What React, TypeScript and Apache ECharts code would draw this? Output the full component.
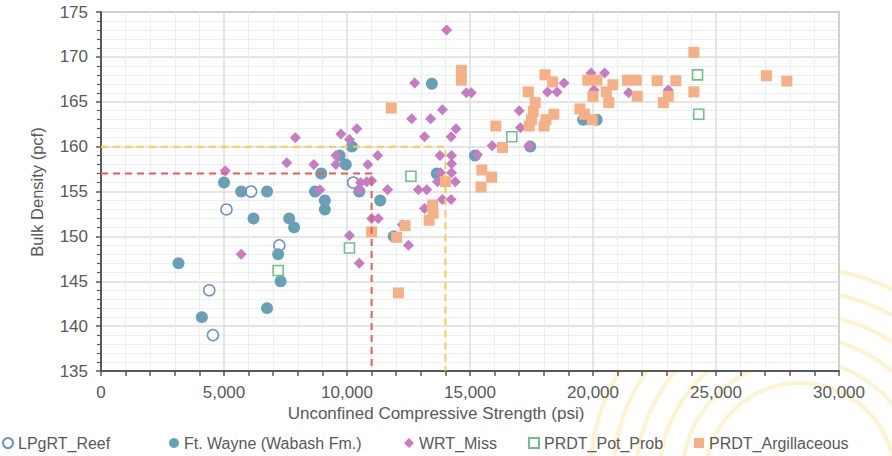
import React, { useEffect, useRef } from 'react';
import * as echarts from 'echarts';

// ---- data (UCS psi, bulk density pcf) ----
const lpgrtReef: number[][] = [
  [4400, 144], [4550, 139], [5100, 153], [6100, 155], [7250, 149], [10250, 156],
];

const ftWayne: number[][] = [
  [3150, 147], [4100, 141], [5000, 156], [5700, 155], [6200, 152], [6750, 155],
  [6750, 142], [7200, 148], [7300, 145], [7650, 152], [7850, 151], [8700, 155],
  [8950, 157], [9100, 154], [9100, 153], [9700, 159], [9950, 158], [10200, 160],
  [10500, 155], [11350, 154], [11900, 150], [13450, 167], [13650, 157], [15200, 159],
  [17450, 160], [19600, 163], [20150, 163],
];

const wrtMiss: number[][] = [
  [5050, 157.3], [5700, 148], [7550, 158.2], [7900, 161], [8650, 158], [8900, 155.2],
  [9550, 159], [9550, 158], [9750, 161.4], [10100, 160.8], [10400, 162], [10100, 150.1],
  [10500, 147], [10500, 155.2], [10550, 156], [10800, 156.1], [11000, 156.2], [10850, 158],
  [11250, 159], [11000, 152], [11270, 152], [11650, 155.2], [12250, 151.3], [12500, 149],
  [12900, 155.2], [13240, 155.2], [13150, 153.1], [13150, 161.1], [12630, 163.1], [13400, 163.1],
  [12750, 167.1], [13880, 164.1], [14050, 173], [14430, 162], [14230, 161.1], [14850, 166],
  [15050, 166], [13780, 159], [14250, 159], [14250, 158.1], [13800, 157.1], [14250, 157.1],
  [13680, 156.1], [14400, 156.1], [13880, 154.1], [14230, 154.1], [15300, 159.1], [15900, 160.1],
  [17000, 164], [17050, 162.1], [17400, 160.1], [18150, 166.1], [18540, 166.1], [18820, 167.1],
  [19920, 168.2], [20470, 168.2], [20040, 166.3], [21450, 166], [23060, 166.3],
];

const prdtPotProb: number[][] = [
  [7200, 146.2], [10100, 148.7], [12600, 156.7], [16700, 161.1], [24250, 168], [24300, 163.6],
];

const prdtArgillaceous: number[][] = [
  [11000, 150.5], [11800, 164.3], [12020, 149.9], [12090, 143.7], [12360, 151.2], [13340, 151.8],
  [13500, 152.6], [13480, 153.5], [14000, 156.1], [14650, 168.5], [14650, 167.4], [15450, 155.5],
  [15480, 157.4], [15880, 156.6], [16050, 162.3], [16320, 159.9], [17370, 166.1], [17650, 164.9],
  [17570, 163.9], [17500, 163], [17410, 162.3], [18050, 168], [18360, 167.2], [18410, 163.6],
  [18090, 163], [18010, 162.3], [19790, 167.4], [20160, 167.4], [20810, 166.9], [20540, 166.1],
  [20000, 165.6], [20640, 164.9], [19470, 164.2], [19650, 163.6], [19970, 163], [21400, 167.4],
  [21760, 167.4], [21800, 165.6], [22610, 167.35], [23370, 167.35], [23060, 165.6], [22860, 164.9],
  [24100, 170.5], [24100, 166.1], [27050, 167.9], [27880, 167.3],
];

const redGuide: number[][] = [[0, 157], [11000, 157], [11000, 135]];
const yellowGuide: number[][] = [[0, 160], [14000, 160], [14000, 135]];

const seriesNames = ['LPgRT_Reef', 'Ft. Wayne (Wabash Fm.)', 'WRT_Miss', 'PRDT_Pot_Prob', 'PRDT_Argillaceous'];
const legendLefts = [2, 169, 404, 528, 694];

const FONT = "'Liberation Sans', Arial, sans-serif";
const GRAY = '#595959';

export default function App() {
  const ref = useRef<HTMLDivElement>(null);
  useEffect(() => {
    document.body.style.margin = '0';
    const chart = echarts.init(ref.current as HTMLDivElement, null, { renderer: 'svg' });
    const arcs = [95, 118, 141, 164, 187, 210].map((r) => ({
      type: 'circle',
      z: -10,
      silent: true,
      shape: { cx: 800, cy: 478, r },
      style: { fill: 'none', stroke: '#fdf4cf', lineWidth: 4 },
    }));
    const option: any = {
      animation: false,
      backgroundColor: '#ffffff',
      textStyle: { fontFamily: FONT },
      grid: {
        left: 101, right: 53, top: 12, bottom: 85,
        show: true, backgroundColor: '#ffffff', borderColor: '#8c8c8c', borderWidth: 1.5, z: 0,
      },
      xAxis: {
        type: 'value', min: 0, max: 30000, interval: 5000,
        axisLine: { show: true, onZero: false, lineStyle: { color: GRAY, width: 2 } },
        axisTick: { show: true, length: 5, lineStyle: { color: GRAY, width: 1.5 } },
        minorTick: { show: true, splitNumber: 5, length: 5, lineStyle: { color: GRAY, width: 1.5 } },
        splitLine: { show: true, lineStyle: { color: '#dcdcdc', width: 1.5 } },
        minorSplitLine: { show: true, lineStyle: { color: '#eaf0f1', width: 1 } },
        axisLabel: {
          color: GRAY, fontSize: 17, fontFamily: FONT, margin: 13,
          formatter: (v: number) => v.toLocaleString('en-US'),
        },
      },
      yAxis: {
        type: 'value', min: 135, max: 175, interval: 5,
        axisLine: { show: true, onZero: false, lineStyle: { color: GRAY, width: 2 } },
        axisTick: { show: true, length: 5, lineStyle: { color: GRAY, width: 1.5 } },
        minorTick: { show: true, splitNumber: 5, length: 4, lineStyle: { color: GRAY, width: 1.2 } },
        splitLine: { show: true, lineStyle: { color: '#dcdcdc', width: 1.5 } },
        minorSplitLine: { show: true, lineStyle: { color: '#eaf0f1', width: 1 } },
        axisLabel: { color: GRAY, fontSize: 17, fontFamily: FONT, margin: 13 },
      },
      legend: seriesNames.map((n, i) => ({
        data: [n],
        left: legendLefts[i],
        top: 435,
        itemWidth: 10,
        itemHeight: 10,
        itemGap: 0,
        padding: 0,
        textStyle: { color: GRAY, fontSize: 16, fontFamily: FONT },
      })),
      graphic: [
        ...arcs,
        {
          type: 'text',
          x: 436, y: 413,
          style: {
            text: 'Unconfined Compressive Strength (psi)',
            fill: GRAY, font: `17px ${FONT}`, align: 'center', verticalAlign: 'middle',
          },
        },
        {
          type: 'text',
          x: 37, y: 192, rotation: Math.PI / 2,
          style: {
            text: 'Bulk Density (pcf)',
            fill: GRAY, font: `16.5px ${FONT}`, align: 'center', verticalAlign: 'middle',
          },
        },
      ],
      series: [
        {
          name: seriesNames[0], type: 'scatter', data: lpgrtReef, symbol: 'circle', symbolSize: 11,
          itemStyle: { color: '#ffffff', borderColor: '#6f8fc9', borderWidth: 1.5, opacity: 1 },
        },
        {
          name: seriesNames[1], type: 'scatter', data: ftWayne, symbol: 'circle', symbolSize: 12,
          itemStyle: { color: '#68a1b6', opacity: 1 },
        },
        {
          name: seriesNames[2], type: 'scatter', data: wrtMiss, symbol: 'diamond', symbolSize: 11,
          itemStyle: { color: '#c77bc5', opacity: 1 },
        },
        {
          name: seriesNames[3], type: 'scatter', data: prdtPotProb, symbol: 'rect', symbolSize: 10,
          itemStyle: { color: '#ffffff', borderColor: '#6cc38a', borderWidth: 1.6, opacity: 1 },
        },
        {
          name: seriesNames[4], type: 'scatter', data: prdtArgillaceous, symbol: 'rect', symbolSize: 11,
          itemStyle: { color: '#f5b185', opacity: 1 },
        },
        {
          name: 'redGuide', type: 'line', data: redGuide, symbol: 'none', silent: true, z: 5,
          lineStyle: { color: '#ee5a55', width: 2, type: [7, 5] },
        },
        {
          name: 'yellowGuide', type: 'line', data: yellowGuide, symbol: 'none', silent: true, z: 5,
          lineStyle: { color: '#f7cb4f', width: 2, type: [7, 5] },
        },
      ],
    };
    chart.setOption(option);
    return () => chart.dispose();
  }, []);
  return <div ref={ref} style={{ width: 892, height: 456 }} />;
}
